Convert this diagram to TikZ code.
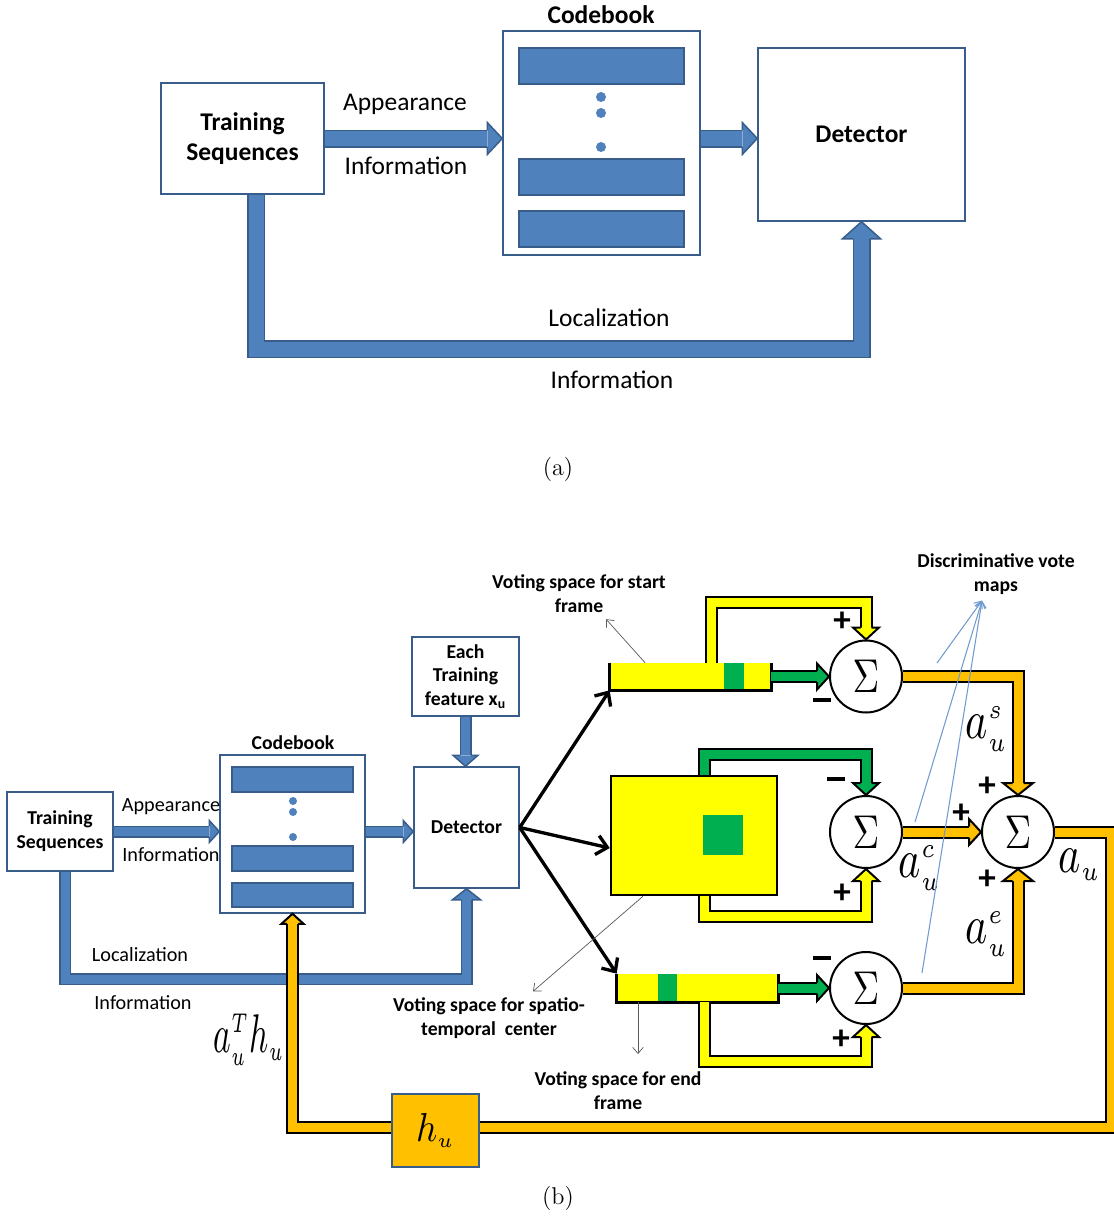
\documentclass[tikz,border=0pt]{standalone}
\usepackage{fontspec}
\usepackage{graphicx}
\usetikzlibrary{arrows.meta}
\newfontfamily\calfont{Carlito}
\newlength\pxl
\setlength\pxl{0.02cm} % one pixel of the drawing
\definecolor{boxblue}{HTML}{4F81BD}
\definecolor{edgeblue}{HTML}{385D8A}
\definecolor{voteyellow}{HTML}{FFFF00}
\definecolor{votegreen}{HTML}{00B050}
\definecolor{voteorange}{HTML}{FFC000}
\definecolor{noteblue}{HTML}{6F9BD1}
\newcommand\sigmasym{\scalebox{2.1}[2.7]{$\Sigma$}}
\newcommand\minussign{\rule[0.22em]{0.5em}{0.11em}}
% tall italic symbol with small scripts
\newcommand\bigmath[2][2.4]{\scalebox{#1}[3.1]{$#2$}}
\newcommand\tinyidx[1]{{\scriptscriptstyle #1}}
% block arrow head: fill, outline style, tip, direction, half width, length, half shaft
\newcommand\fathead[7]{%
  \fill[#1, shift={#3}, rotate=#4] (0,0) -- (-#6,#5) -- (-#6,-#5) -- cycle;
  \draw[#2, shift={#3}, rotate=#4] (-#6,#7) -- (-#6,#5) -- (0,0) -- (-#6,-#5) -- (-#6,-#7);
}
\tikzset{
  panel/.style={draw=edgeblue, line width=1.5\pxl, fill=white, inner sep=0pt, align=center},
  panel a/.style={panel, font=\calfont\bfseries\fontsize{14.5}{17}\selectfont},
  panel b/.style={panel, font=\calfont\bfseries\fontsize{11.2}{13.6}\selectfont},
  codeword/.style={draw=edgeblue, fill=boxblue, line width=1.2\pxl, inner sep=0pt},
  text a/.style={font=\calfont\fontsize{14.5}{17}\selectfont},
  text b/.style={font=\calfont\fontsize{11.5}{13.6}\selectfont},
  title a/.style={font=\calfont\bfseries\fontsize{14.5}{17}\selectfont},
  notelbl/.style={align=center, font=\calfont\bfseries\fontsize{11.2}{13.6}\selectfont},
  captionlbl/.style={font=\fontsize{13.8}{16}\selectfont},
  % thick pipes: outline colour plus filling
  bluepipe a/.style={draw=edgeblue, double=boxblue, line width=1.5\pxl, double distance=15\pxl},
  bluepipe b/.style={draw=edgeblue, double=boxblue, line width=1.5\pxl, double distance=9\pxl},
  yellowpipe/.style={draw=black, double=voteyellow, line width=2\pxl, double distance=9\pxl},
  greenpipe/.style={yellowpipe, double=votegreen},
  orangepipe/.style={yellowpipe, double=voteorange},
  bluehead/.style={draw=edgeblue, line width=1.5\pxl},
  blackhead/.style={draw=black, line width=2\pxl},
  votebox/.style={fill=voteyellow, inner sep=0pt},
  summer/.style={circle, draw, line width=2\pxl, fill=white, minimum size=72\pxl, inner sep=0pt},
  signlbl/.style={inner sep=0pt, font=\calfont\bfseries\fontsize{20}{20}\selectfont},
  feedarrow/.style={line width=1.9pt, -{Straight Barb[length=6pt,width=11pt]}},
  noteline/.style={gray!70!black, line width=0.4pt, -{Straight Barb[length=3.5pt,width=6pt]}},
  mapline/.style={noteblue, line width=0.6pt, -{Straight Barb[length=3.5pt,width=6pt]}}
}

\begin{document}
\begin{tikzpicture}[x=0.02cm, y=-0.02cm]
  \path[use as bounding box, fill=white] (0,0) rectangle (1114,1217);

  % ---- (a) ----
  \node[panel a, minimum width=163\pxl, minimum height=111\pxl] (train_a) at (242.5,138.5) {Training\\Sequences};
  \node[panel, minimum width=197\pxl, minimum height=224\pxl] (codebook_a) at (601.5,143) {};
  \node[title a] (codebook_a_title) at (601,15) {Codebook};
  \node[panel a, minimum width=207\pxl, minimum height=173\pxl] (detector_a) at (861.5,134.5) {Detector};
  \foreach \y [count=\i] in {66,177,229}
    \node[codeword, minimum width=165\pxl, minimum height=36\pxl] (word_a\i) at (601.5,\y) {};
  \foreach \y in {97,113,147}
    \fill[boxblue] (601,\y) circle[radius=5\pxl];

  \draw[bluepipe a, shorten >=15\pxl] (train_a.east) -- (train_a.east -| codebook_a.west);
  \fathead{boxblue}{bluehead}{(train_a.east -| codebook_a.west)}{0}{16}{15}{8.25}
  \node[text a] (app_a) at (405,104) {Appearance};
  \node[text a] (app_info_a) at (406,166) {Information};

  \draw[bluepipe a, shorten >=15\pxl] (codebook_a.east |- train_a.east) -- (detector_a.west |- train_a.east);
  \fathead{boxblue}{bluehead}{(detector_a.west |- train_a.east)}{0}{16}{15}{8.25}

  \draw[bluepipe a, shorten >=17\pxl] ([xshift=13.5\pxl]train_a.south) -- ++(0,154.5) -| (detector_a.south);
  \fathead{boxblue}{bluehead}{(detector_a.south)}{90}{19}{17}{8.25}
  \node[text a] (loc_a) at (609,318) {Localization};
  \node[text a] (loc_info_a) at (612,380) {Information};

  \node[captionlbl] (cap_a) at (558,469) {(a)};

  % ---- (b) ----
  \node[panel b, minimum width=106\pxl, minimum height=79\pxl] (train_b) at (60,831.5) {Training\\Sequences};
  \node[panel, minimum width=145\pxl, minimum height=158\pxl] (codebook_b) at (292.5,834) {};
  \node[notelbl] (codebook_b_title) at (293,743) {Codebook};
  \foreach \y/\h [count=\i] in {779.5/25, 858.5/25, 895/24}
    \node[codeword, minimum width=121\pxl, minimum height=\h\pxl] (word_b\i) at (292.5,\y) {};
  \foreach \y in {801,812,837}
    \fill[boxblue] (293,\y) circle[radius=4\pxl];
  \node[panel b, minimum width=105\pxl, minimum height=121\pxl] (detector_b) at (466.5,827.5) {Detector};
  \node[panel b, minimum width=107\pxl, minimum height=79\pxl] (feature_b) at (465.5,676.5) {Each\\Training\\feature x\textsubscript{u}};

  \draw[bluepipe b, shorten >=10\pxl] (train_b.east) -- (train_b.east -| codebook_b.west);
  \fathead{boxblue}{bluehead}{(train_b.east -| codebook_b.west)}{0}{11}{10}{5.25}
  \node[text b] (app_b) at (171,807) {Appearance};
  \node[text b] (app_info_b) at (171,855) {Information};
  \draw[bluepipe b, shorten >=10\pxl] (codebook_b.east |- train_b.east) -- (detector_b.west |- train_b.east);
  \fathead{boxblue}{bluehead}{(detector_b.west |- train_b.east)}{0}{11}{10}{5.25}
  \draw[bluepipe b, shorten >=11\pxl] (feature_b.south) -- (feature_b.south |- detector_b.north);
  \fathead{boxblue}{bluehead}{(feature_b.south |- detector_b.north)}{-90}{12.5}{11}{5.25}
  \draw[bluepipe b, shorten >=11\pxl] ([xshift=5\pxl]train_b.south) -- ++(0,107.5) -| (detector_b.south);
  \fathead{boxblue}{bluehead}{(detector_b.south)}{90}{14}{11}{5.25}
  \node[text b] (loc_b) at (140,955) {Localization};
  \node[text b] (loc_info_b) at (143,1003) {Information};

  % voting spaces
  \node[votebox, minimum width=161\pxl, minimum height=27\pxl] (vs_start) at (690.5,676.5) {};
  \fill[votegreen] (724,663) rectangle (744,690);
  \draw[line width=2.5\pxl] (vs_start.north west) -- (vs_start.south west) -- (vs_start.south east) -- (vs_start.north east);
  \node[votebox, draw, line width=2.5\pxl, minimum width=166\pxl, minimum height=119\pxl] (vs_center) at (694,835.5) {};
  \fill[votegreen] (703,815) rectangle (743,855);
  \node[votebox, minimum width=161\pxl, minimum height=28\pxl] (vs_end) at (697.5,988) {};
  \fill[votegreen] (658,974) rectangle (677,1002);
  \draw[line width=2.5\pxl] (vs_end.north west) -- (vs_end.south west) -- (vs_end.south east) -- (vs_end.north east);

  \draw[feedarrow] (detector_b.east) -- (vs_start.south west);
  \draw[feedarrow] (detector_b.east) -- ([yshift=-12.5\pxl]vs_center.west);
  \draw[feedarrow] (detector_b.east) -- (vs_end.north west);

  % summing junctions
  \node[summer] (sum_start) at (866,676.5) {\sigmasym};
  \node[summer] (sum_center) at (866,832) {\sigmasym};
  \node[summer] (sum_end) at (866,988) {\sigmasym};
  \node[summer] (sum_all) at (1018,832) {\sigmasym};

  \draw[yellowpipe, shorten >=12\pxl] ([xshift=20.5\pxl]vs_start.north) -- ++(0,-60) -| (sum_start.north);
  \fathead{voteyellow}{blackhead}{(sum_start.north)}{-90}{13}{12}{5.5}
  \draw[greenpipe, shorten >=12\pxl] (vs_start.east) -- (sum_start.west);
  \fathead{votegreen}{blackhead}{(sum_start.west)}{0}{13}{12}{5.5}

  \draw[greenpipe, shorten >=12\pxl] ([xshift=10\pxl]vs_center.north) -- ++(0,-20) -| (sum_center.north);
  \fathead{votegreen}{blackhead}{(sum_center.north)}{-90}{13}{12}{5.5}
  \draw[yellowpipe, shorten >=12\pxl] ([xshift=10\pxl]vs_center.south) -- ++(0,20) -| (sum_center.south);
  \fathead{voteyellow}{blackhead}{(sum_center.south)}{90}{13}{12}{5.5}

  \draw[greenpipe, shorten >=12\pxl] (vs_end.east) -- (sum_end.west);
  \fathead{votegreen}{blackhead}{(sum_end.west)}{0}{13}{12}{5.5}
  \draw[yellowpipe, shorten >=12\pxl] ([xshift=6.5\pxl]vs_end.south) -- ++(0,59) -| (sum_end.south);
  \fathead{voteyellow}{blackhead}{(sum_end.south)}{90}{13}{12}{5.5}

  \draw[orangepipe, shorten >=12\pxl] (sum_start.east) -| (sum_all.north);
  \fathead{voteorange}{blackhead}{(sum_all.north)}{-90}{15}{12}{5.5}
  \draw[orangepipe, shorten >=12\pxl] (sum_center.east) -- (sum_all.west);
  \fathead{voteorange}{blackhead}{(sum_all.west)}{0}{13}{12}{5.5}
  \draw[orangepipe, shorten >=12\pxl] (sum_end.east) -| (sum_all.south);
  \fathead{voteorange}{blackhead}{(sum_all.south)}{90}{15}{12}{5.5}

  % feedback to the codebook
  \draw[orangepipe, shorten >=10\pxl] (sum_all.east) -- ++(56,0) -- ++(0,295) -| (codebook_b.south);
  \fathead{voteorange}{blackhead}{(codebook_b.south)}{90}{11}{10}{5.5}
  \node[draw=edgeblue, line width=1.5\pxl, fill=voteorange, minimum width=87\pxl, minimum height=73\pxl, inner sep=0pt] (weight) at (435.5,1130.5) {\scalebox{2.1}[2.3]{$h_\tinyidx{u}$}};

  % signs and labels
  \node[signlbl] (p_start) at (842,622) {+};
  \node[signlbl] (m_start) at (822,704) {\minussign};
  \node[signlbl] (m_center) at (836,783) {\minussign};
  \node[signlbl] (p_center) at (842,894) {+};
  \node[signlbl] (m_end) at (822,962) {\minussign};
  \node[signlbl] (p_end) at (841,1040) {+};
  \node[signlbl] (p_all_s) at (987,787) {+};
  \node[signlbl] (p_all_c) at (961,814) {+};
  \node[signlbl] (p_all_e) at (987,880) {+};

  \node[inner sep=0pt] (a_s) at (987,729) {\bigmath{a_\tinyidx{u}^\tinyidx{s}}};
  \node[inner sep=0pt] (a_c) at (920,868) {\bigmath{a_\tinyidx{u}^\tinyidx{c}}};
  \node[inner sep=0pt] (a_e) at (987,934) {\bigmath{a_\tinyidx{u}^\tinyidx{e}}};
  \node[inner sep=0pt] (a_all) at (1080,865) {\bigmath{a_\tinyidx{u}}};
  \node[inner sep=0pt] (a_fb) at (249,1040) {\bigmath[1.9]{a_\tinyidx{u}^\tinyidx{T} h_\tinyidx{u}}};

  % notes
  \node[notelbl] (note_start) at (579,594) {Voting space for start\\frame};
  \draw[noteline] ([xshift=-45.5\pxl]vs_start.north) -- ([xshift=27\pxl]note_start.south);
  \node[notelbl] (note_center) at (489,1018) {Voting space for spatio-\\temporal~~center};
  \draw[noteline] ([xshift=-51\pxl]vs_center.south) -- ([xshift=44\pxl]note_center.north);
  \node[notelbl] (note_end) at (618,1091) {Voting space for end\\frame};
  \coordinate (note_end_tip) at (638,1054);
  \draw[noteline] ([xshift=-59.5\pxl]vs_end.south) -- (note_end_tip);

  \node[notelbl] (note_maps) at (996,574) {Discriminative vote\\maps};
  \coordinate (map_s) at (937,663);
  \coordinate (map_c) at (915,822);
  \coordinate (map_e) at (922,973);
  \foreach \m in {map_s,map_c,map_e}
    \draw[mapline] (\m) -- ([xshift=-14\pxl]note_maps.south);

  \node[captionlbl] (cap_b) at (558,1198) {(b)};
\end{tikzpicture}
\end{document}
